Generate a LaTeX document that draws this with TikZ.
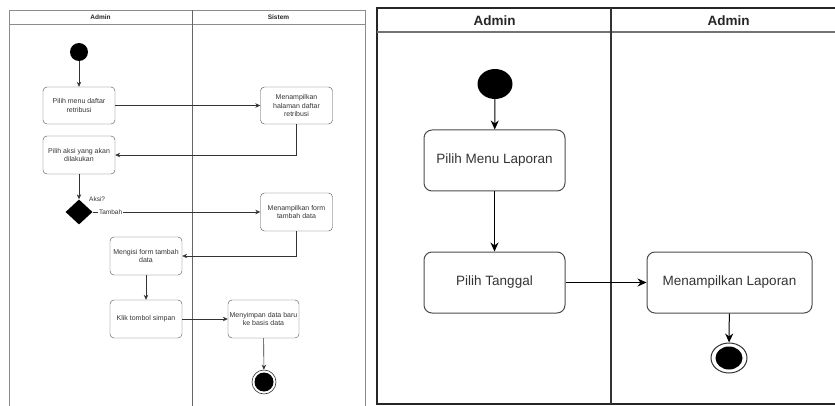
\documentclass[tikz,border=0pt]{standalone}
\usepackage{fontspec}
\setmainfont{Liberation Sans}
\usetikzlibrary{arrows.meta,shapes.geometric}
\begin{document}
\begin{tikzpicture}[x=1pt,y=-1pt,
  smallact/.style={draw=black!70,rounded corners=4pt,minimum width=72pt,minimum height=37pt,inner sep=1pt,align=center,text=black!80,font=\fontsize{7}{8.5}\selectfont},
  bigact/.style={draw=black!70,line width=1pt,rounded corners=8pt,minimum width=141pt,minimum height=61pt,inner sep=1pt,text=black!80,font=\fontsize{13.5}{16}\selectfont},
  smallflow/.style={draw=black!80,line width=0.6pt,-{Stealth[length=5pt,width=4.5pt]}},
  bigflow/.style={draw=black,line width=1pt,-{Stealth[length=9pt,width=8pt]}},
  smallhead/.style={font=\fontsize{6.5}{8}\selectfont\bfseries,text=black!85},
  bighead/.style={font=\fontsize{13.5}{16}\selectfont\bfseries,text=black!85},
  smalllbl/.style={font=\fontsize{6.5}{8}\selectfont,text=black!80,inner sep=1pt}]
\useasboundingbox (0,0) rectangle (835,406);
% left swimlanes
\draw[black!45,line width=0.7pt] (9,406) |- (365,10) -- (365,406);
\draw[black!45,line width=0.7pt] (9,24) -- (365,24);
\draw[black!60,line width=0.7pt] (192,10) -- (192,406);
\node[smallhead] (lhA) at (100.5,17) {Admin};
\node[smallhead] (lhS) at (278.5,17) {Sistem};
\node[circle,fill=black,minimum size=18pt,inner sep=0pt] (start) at (79,52) {};
\node[smallact] (b1) at (79,105.5) {Pilih menu daftar\\retribusi};
\node[smallact] (b2) at (296.5,105.5) {Menampilkan\\halaman daftar\\retribusi};
\node[smallact,minimum height=38pt] (b3) at (79,155) {Pilih aksi yang akan\\dilakukan};
\node[diamond,fill=black,minimum width=27pt,minimum height=25pt,inner sep=0pt,aspect=1.1] (dec) at (79,212) {};
\node[smalllbl,anchor=west] (aksi) at (88,199) {Aksi?};
\node[smallact,minimum height=38pt] (b4) at (296.5,212) {Menampilkan form\\tambah data};
\node[smallact,minimum height=38pt] (b5) at (146,256) {Mengisi form tambah\\data};
\node[smallact,minimum height=38pt] (b6) at (146,319) {Klik tombol simpan};
\node[smallact,minimum width=71pt,minimum height=38pt] (b7) at (263.5,319) {Menyimpan data baru\\ke basis data};
\node[circle,draw=black!80,line width=0.6pt,minimum size=24pt,inner sep=0pt] (end) at (264,382) {};
\node[circle,fill=black,minimum size=19pt,inner sep=0pt] (endin) at (end) {};
\draw[smallflow] (start) -- (b1);
\draw[smallflow] (b1) -- (b2);
\draw[smallflow] (b2.south) |- (b3.east);
\draw[smallflow] (b3) -- (dec);
\draw[smallflow] (dec.east) -- node[smalllbl,fill=white,pos=0.03,anchor=west] (tambah) {Tambah} (b4.west);
\draw[smallflow] (b4.south) |- (b5.east);
\draw[smallflow] (b5) -- (b6);
\draw[smallflow] (b6) -- (b7);
\draw[smallflow] (b7) -- (end);
% right swimlanes
\draw[black!85,line width=1.2pt] (835,8) -| (377,404) -- (835,404);
\draw[black!55,line width=1.5pt] (377,32) -- (835,32);
\draw[black!80,line width=1.2pt] (611,8) -- (611,404);
\node[bighead] (rhA) at (494.5,20.5) {Admin};
\node[bighead] (rhB) at (728.5,20.5) {Admin};
\node[ellipse,fill=black,minimum width=35pt,minimum height=30pt,inner sep=0pt] (rstart) at (495,84) {};
\node[bigact] (r1) at (494.5,160.5) {Pilih Menu Laporan};
\node[bigact] (r2) at (494.5,282.5) {Pilih Tanggal};
\node[bigact,minimum width=165pt] (r3) at (729.5,282.5) {Menampilkan Laporan};
\node[ellipse,draw=black!80,line width=1pt,minimum width=36pt,minimum height=30pt,inner sep=0pt] (rend) at (729,358) {};
\node[ellipse,fill=black,minimum width=27pt,minimum height=23pt,inner sep=0pt] (rendin) at (rend) {};
\draw[bigflow] (rstart) -- (r1);
\draw[bigflow] (r1) -- (r2);
\draw[bigflow] (r2) -- (r3);
\draw[bigflow] (r3) -- (rend);
\end{tikzpicture}
\end{document}
